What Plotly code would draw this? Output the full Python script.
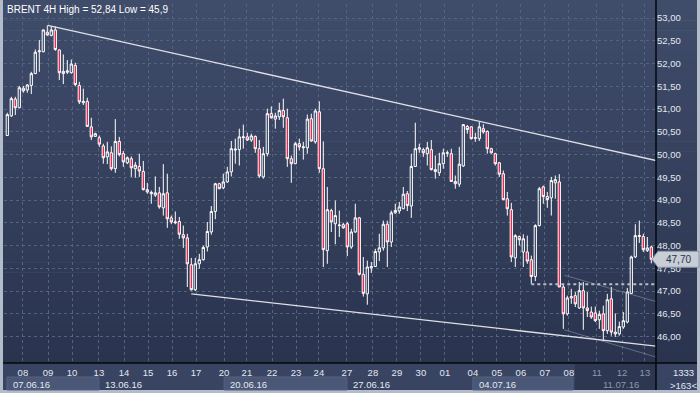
import plotly.graph_objects as go

# ---------------- data ----------------
opens = [50.42, 50.85, 51.22, 51.03, 51.46, 51.42, 51.52, 51.78, 52.26, 52.26,
         52.69, 52.62, 52.74, 52.30, 51.78, 51.81, 51.80, 51.96, 51.52, 51.14,
         51.17, 50.61, 50.40, 50.37, 50.19, 49.95, 50.04, 49.69, 50.29, 50.02,
         49.82, 49.91, 49.69, 49.74, 49.63, 49.23, 49.14, 49.11, 49.16, 48.83,
         49.16, 48.61, 48.50, 48.53, 48.24, 48.17, 47.58, 47.03, 47.60, 47.69,
         47.97, 48.30, 48.75, 49.36, 49.27, 49.40, 49.62, 50.10, 50.11, 50.37,
         50.39, 50.32, 50.40, 50.13, 49.51, 50.02, 50.90, 50.78, 50.83, 50.97,
         50.81, 49.91, 49.80, 50.24, 50.15, 50.15, 50.79, 50.28, 50.94, 49.69,
         47.89, 48.77, 48.48, 48.44, 48.46, 48.48, 47.97, 48.30, 48.61, 47.37,
         46.94, 47.51, 47.54, 47.86, 47.95, 48.47, 48.08, 48.72, 48.76, 48.81,
         49.14, 48.87, 49.74, 50.12, 50.11, 50.02, 50.11, 49.67, 49.60, 49.80,
         50.03, 50.02, 49.41, 49.35, 49.75, 50.62, 50.61, 50.36, 50.35, 50.57,
         50.51, 50.13, 50.02, 49.82, 49.58, 49.03, 48.79, 47.73, 48.20, 47.86,
         47.86, 47.69, 47.32, 48.44, 49.29, 49.08, 49.05, 49.38, 49.40, 47.09,
         46.50, 46.85, 46.90, 46.63, 47.01, 46.63, 46.54, 46.52, 46.37, 46.50,
         46.13, 46.83, 46.10, 46.06, 46.21, 46.32, 46.95, 47.75, 48.20, 48.20,
         47.89, 47.97]
highs = [50.92, 51.27, 51.27, 51.51, 51.51, 51.55, 51.82, 52.31, 52.52, 52.75,
         52.84, 52.82, 52.82, 52.31, 52.20, 52.08, 52.09, 52.02, 51.60, 51.45,
         51.25, 50.81, 50.48, 50.42, 50.24, 50.28, 50.18, 50.78, 50.39, 50.08,
         49.96, 49.96, 49.84, 50.02, 49.86, 49.38, 49.21, 49.52, 49.29, 49.79,
         49.58, 48.66, 48.75, 48.63, 48.44, 48.26, 47.73, 47.73, 47.82, 48.00,
         48.52, 48.87, 49.38, 49.38, 49.58, 49.73, 50.30, 50.35, 50.57, 50.66,
         50.48, 50.46, 50.42, 50.32, 50.17, 51.01, 51.06, 50.92, 51.14, 51.23,
         51.01, 49.98, 50.28, 50.35, 50.28, 50.88, 50.90, 51.01, 51.17, 50.29,
         49.29, 48.81, 48.99, 48.77, 48.50, 48.52, 48.37, 48.92, 48.63, 47.75,
         47.67, 47.64, 47.93, 48.26, 48.55, 48.55, 48.77, 48.92, 48.96, 49.29,
         49.20, 50.02, 50.70, 50.24, 50.15, 50.28, 50.32, 49.98, 50.04, 50.13,
         50.09, 50.13, 49.54, 50.17, 50.67, 50.65, 50.62, 50.48, 50.72, 50.67,
         50.53, 50.15, 50.04, 49.84, 49.65, 49.18, 48.94, 48.25, 48.22, 48.25,
         48.22, 47.78, 48.47, 49.29, 49.32, 49.18, 49.51, 49.54, 49.57, 47.16,
         46.90, 47.05, 46.98, 47.20, 47.20, 46.98, 46.66, 46.66, 46.57, 46.68,
         46.94, 47.09, 46.51, 46.33, 46.54, 47.07, 47.78, 48.47, 48.55, 48.26,
         48.19, 48.00]
lows = [50.41, 50.83, 50.87, 51.02, 51.36, 51.36, 51.33, 51.77, 51.82, 52.25,
        52.61, 52.60, 52.28, 51.64, 51.55, 51.77, 51.78, 51.50, 51.11, 51.09,
        50.61, 50.32, 50.39, 50.17, 49.80, 49.79, 49.65, 49.60, 49.96, 49.73,
        49.79, 49.51, 49.49, 49.51, 49.21, 49.14, 48.92, 49.07, 48.81, 48.66,
        48.39, 48.47, 48.47, 48.15, 47.95, 47.09, 47.01, 47.00, 47.49, 47.67,
        47.87, 48.24, 48.58, 49.24, 49.24, 49.38, 49.52, 49.80, 49.76, 50.13,
        50.30, 50.28, 50.04, 49.49, 49.47, 49.96, 50.79, 50.57, 50.76, 50.59,
        49.73, 49.38, 49.79, 50.09, 49.89, 50.02, 50.28, 50.24, 49.60, 47.53,
        47.60, 48.30, 48.03, 48.19, 48.37, 47.77, 47.93, 48.28, 47.34, 46.88,
        46.70, 47.40, 47.53, 47.66, 47.89, 47.53, 47.97, 48.70, 48.70, 48.80,
        48.76, 48.61, 49.73, 50.04, 49.95, 49.76, 49.65, 49.47, 49.53, 49.69,
        49.95, 49.40, 49.25, 49.29, 49.73, 50.46, 50.33, 50.28, 50.30, 50.46,
        50.02, 50.02, 49.76, 49.51, 49.00, 48.66, 47.64, 47.53, 48.00, 47.53,
        47.60, 47.16, 47.22, 48.42, 48.92, 48.83, 48.66, 49.03, 47.09, 46.17,
        46.46, 46.72, 46.65, 46.61, 46.15, 46.43, 46.39, 46.32, 46.17, 45.90,
        46.06, 46.02, 45.99, 46.02, 46.17, 46.29, 46.94, 47.73, 48.06, 47.86,
        47.86, 47.61]
closes = [50.88, 51.23, 51.03, 51.47, 51.40, 51.53, 51.78, 52.25, 52.28, 52.74,
          52.63, 52.74, 52.31, 51.80, 51.83, 51.84, 51.99, 51.54, 51.16, 51.17,
          50.62, 50.39, 50.46, 50.23, 49.93, 50.06, 49.69, 50.29, 50.00, 49.84,
          49.93, 49.71, 49.77, 49.64, 49.23, 49.18, 49.17, 49.16, 48.85, 49.14,
          48.59, 48.52, 48.52, 48.25, 48.17, 47.60, 47.03, 47.60, 47.69, 47.96,
          48.31, 48.75, 49.36, 49.25, 49.40, 49.62, 50.13, 50.12, 50.39, 50.39,
          50.32, 50.41, 50.13, 49.53, 50.02, 50.90, 50.81, 50.85, 50.97, 50.83,
          49.91, 49.80, 50.24, 50.17, 50.17, 50.78, 50.30, 50.96, 49.69, 47.91,
          48.79, 48.52, 48.66, 48.45, 48.39, 47.97, 48.30, 48.61, 47.37, 46.95,
          47.53, 47.54, 47.87, 47.95, 48.47, 48.08, 48.72, 48.77, 48.85, 49.13,
          48.88, 49.74, 50.13, 50.15, 50.04, 50.15, 49.67, 49.63, 49.80, 50.04,
          50.04, 49.41, 49.36, 49.79, 50.66, 50.55, 50.35, 50.37, 50.61, 50.50,
          50.13, 50.04, 49.80, 49.57, 49.01, 48.81, 47.75, 48.22, 48.13, 48.15,
          47.66, 47.32, 48.44, 49.25, 49.08, 49.01, 49.43, 49.45, 47.09, 46.50,
          46.85, 46.88, 46.72, 47.01, 46.63, 46.57, 46.43, 46.35, 46.49, 46.13,
          46.81, 46.10, 46.06, 46.22, 46.35, 46.98, 47.75, 48.22, 48.22, 47.91,
          47.95, 47.70]

# day tick positions (candle index) and labels
day_pos = [3.9, 10.2, 16.2, 22.9, 29.2, 35.2, 41.2, 47.2, 54.2, 59.9, 66.2, 72.2,
           77.9, 84.9, 91.4, 97.4, 103.4, 109.4, 116.4, 122.4, 128.4, 134.4,
           140.4, 147.4, 153.7, 159.4]
day_labels = ["08", "09", "10", "13", "14", "15", "16", "17", "20", "21", "22",
              "23", "24", "27", "28", "29", "30", "01", "04", "05", "06", "07",
              "08", "11", "12", "13"]
week_pos = [-0.1, 22.9, 54.2, 84.9, 116.4, 147.4]
week_labels = ["07.06.16", "13.06.16", "20.06.16", "27.06.16", "04.07.16", "11.07.16"]

y_ticks = [46.0, 46.5, 47.0, 47.5, 48.0, 48.5, 49.0, 49.5, 50.0, 50.5, 51.0,
           51.5, 52.0, 52.5, 53.0]

# trend lines drawn on the chart (index, price)
upper_x = [10.1, 162.2]
upper_y = [52.84, 49.87]
lower_x = [46.0, 162.2]
lower_y = [46.94, 45.79]
faint1_x = [139.3, 162.2]
faint1_y = [47.35, 46.77]
faint2_x = [139.2, 162.2]
faint2_y = [46.15, 45.55]
level_x = [131.0, 162.2]
level_y = [47.15, 47.15]

title_text = "BRENT 4H High = 52,84 Low = 45,9"
last_price = closes[-1]
n = len(closes)
x_idx = list(range(n))

# ---------------- layout helpers (pixels -> paper) ----------------
W, H = 700, 393
PL, PR, PT, PB = 4, 656, 4, 363


def px(xp):
    return (xp - PL) / (PR - PL)


def py(yp):
    return (PB - yp) / (PB - PT)


shapes = []
# gradient background bands (plot + right panel)
NB = 36
top_c = (63, 76, 106)
bot_c = (42, 52, 79)
y_start, y_end = 0, PB
for k in range(NB):
    t = k / (NB - 1)
    c = tuple(int(round(top_c[j] + (bot_c[j] - top_c[j]) * t)) for j in range(3))
    y0 = y_start + (y_end - y_start) * k / NB
    y1 = y_start + (y_end - y_start) * (k + 1) / NB
    shapes.append(dict(type="rect", xref="paper", yref="paper", layer="below",
                       x0=px(3), x1=px(697), y0=py(y1 + 0.6), y1=py(y0),
                       line=dict(width=0), fillcolor="rgb(%d,%d,%d)" % c))
# x-axis band
shapes.append(dict(type="rect", xref="paper", yref="paper", layer="below",
                   x0=px(3), x1=px(697), y0=py(390), y1=py(PB),
                   line=dict(width=0), fillcolor="#384462"))
# week boxes (filled alternately)
box_spans = [(week_pos[0], week_pos[1]), (week_pos[2], week_pos[3]), (week_pos[4], 141.4)]
for a, b in box_spans:
    shapes.append(dict(type="rect", xref="x", yref="paper", layer="below",
                       x0=a, x1=b, y0=py(390), y1=py(377),
                       line=dict(width=1, color="#56627f"), fillcolor="#4a5776"))
# darker recent region in axis band
shapes.append(dict(type="rect", xref="x", yref="paper", layer="below",
                   x0=141.9, x1=162.175, y0=py(390), y1=py(PB + 1),
                   line=dict(width=0), fillcolor="#2d3751"))
# black axis lines
shapes.append(dict(type="line", xref="paper", yref="paper", x0=px(PR), x1=px(PR),
                   y0=py(390), y1=py(0), line=dict(color="#05070c", width=1.5)))
shapes.append(dict(type="line", xref="paper", yref="paper", x0=px(3), x1=px(697),
                   y0=py(PB), y1=py(PB), line=dict(color="#05070c", width=1.5)))

# price label box with arrow
half = 8 / 45.52
shapes.append(dict(type="path", xref="paper", yref="y",
                   path="M %f,%f L %f,%f L %f,%f L %f,%f L %f,%f Z" % (
                       px(652), last_price,
                       px(658), last_price + half,
                       px(699), last_price + half,
                       px(699), last_price - half,
                       px(658), last_price - half),
                   fillcolor="#c9cdd6", line=dict(color="#8f97a8", width=1)))

fig = go.Figure()
fig.add_trace(go.Candlestick(
    x=x_idx, open=opens, high=highs, low=lows, close=closes,
    increasing=dict(line=dict(color="#ffffff", width=1), fillcolor="rgba(0,0,0,0)"),
    decreasing=dict(line=dict(color="#ffffff", width=1), fillcolor="#e0193f"),
    whiskerwidth=0, showlegend=False, hoverinfo="skip"))

for xs, ys, col, w, dash in [
        (faint1_x, faint1_y, "rgba(150,160,182,0.5)", 1.1, "solid"),
        (faint2_x, faint2_y, "rgba(150,160,182,0.5)", 1.1, "solid"),
        (level_x, level_y, "#b9bdc8", 2, "dot"),
        (upper_x, upper_y, "#dfe0e6", 1.3, "solid"),
        (lower_x, lower_y, "#dfe0e6", 1.3, "solid")]:
    fig.add_trace(go.Scatter(x=xs, y=ys, mode="lines", showlegend=False,
                             hoverinfo="skip",
                             line=dict(color=col, width=w, dash=dash)))

tick_text = []
for i, lab in enumerate(day_labels):
    if day_pos[i] > 141.9:
        tick_text.append("<span style='color:#8d97ac'>%s</span>" % lab)
    else:
        tick_text.append(lab)

annotations = [
    dict(text=title_text, xref="paper", yref="paper", x=px(5), y=py(9),
         xanchor="left", yanchor="middle", showarrow=False,
         font=dict(size=10, color="#ffffff")),
    dict(text="47,70", xref="paper", yref="y", x=px(679), y=last_price,
         xanchor="center", yanchor="middle", showarrow=False,
         font=dict(size=10, color="#27324c")),
    dict(text="1333", xref="paper", yref="paper", x=px(683), y=py(372),
         xanchor="center", yanchor="middle", showarrow=False,
         font=dict(size=9.5, color="#e4e8f0")),
    dict(text="&gt;163&lt;", xref="paper", yref="paper", x=px(683), y=py(385),
         xanchor="center", yanchor="middle", showarrow=False,
         font=dict(size=9.5, color="#e4e8f0")),
]
for i, lab in enumerate(week_labels):
    col = "#8d97ac" if week_pos[i] > 141.9 else "#e4e8f0"
    annotations.append(dict(text=lab, xref="x", yref="paper", x=week_pos[i] + 0.9,
                            y=py(384), xanchor="left", yanchor="middle",
                            showarrow=False, font=dict(size=9.5, color=col)))

fig.update_layout(
    width=W, height=H,
    margin=dict(l=PL, r=W - PR, t=PT, b=H - PB),
    paper_bgcolor="#b3bccb",
    plot_bgcolor="rgba(0,0,0,0)",
    separators=",.",
    font=dict(family="Liberation Sans, Arial, sans-serif", size=9.5, color="#e4e8f0"),
    shapes=shapes,
    annotations=annotations,
    xaxis=dict(range=[-0.825, 162.175], tickmode="array", tickvals=day_pos,
               ticktext=tick_text, showgrid=True, gridcolor="#56637f",
               griddash="3px,3px", gridwidth=1, zeroline=False, showline=False,
               ticks="", rangeslider=dict(visible=False), fixedrange=True,
               ticklabelstandoff=2,
               tickfont=dict(size=9.5, color="#e4e8f0")),
    yaxis=dict(range=[45.42, 53.31], side="right", tickmode="array",
               tickvals=y_ticks, tickformat=".2f", showgrid=True,
               gridcolor="#56637f", griddash="3px,3px", gridwidth=1,
               zeroline=False, showline=False, ticks="",
               tickfont=dict(size=9.5, color="#e4e8f0")),
    boxgap=0.2,
)

fig.write_html("out.html", config={"displayModeBar": False},
               post_script="document.body.style.margin='0';"
                           "document.body.style.overflow='hidden';")
